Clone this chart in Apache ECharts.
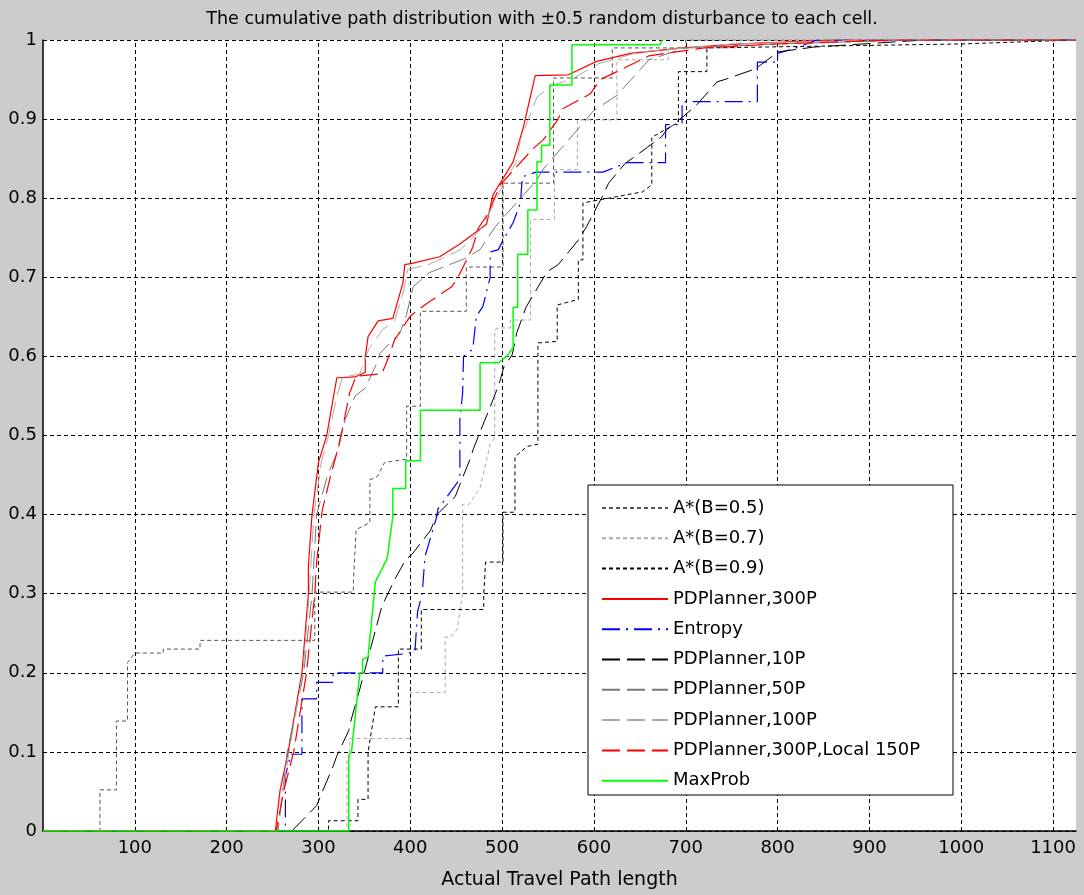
<!DOCTYPE html>
<html><head><meta charset="utf-8">
<script src="https://cdn.jsdelivr.net/npm/echarts/dist/echarts.min.js"></script>
<style>html,body{margin:0;padding:0;background:#cccccc}#c{width:1084px;height:895px}</style>
</head><body><div id="c"></div>
<script>
const titleText = 'The cumulative path distribution with \u00b10.5 random disturbance to each cell.';
const xName = 'Actual Travel Path length';
const seriesNames = ['A*(B=0.5)','A*(B=0.7)','A*(B=0.9)','PDPlanner,300P','Entropy','PDPlanner,10P','PDPlanner,50P','PDPlanner,100P','PDPlanner,300P,Local 150P','MaxProb'];
const xTicks = [100,200,300,400,500,600,700,800,900,1000,1100];

const astar05 = [[0,0],[62,0],[62,0.052],[80,0.052],[80,0.139],[92,0.139],[92,0.213],[100,0.225],[131,0.225],[131,0.23],[171,0.23],[171,0.241],[296,0.241],[296,0.302],[338,0.302],[338,0.314],[341,0.381],[356,0.39],[356,0.444],[364,0.448],[372,0.466],[396,0.47],[396,0.537],[411,0.537],[411,0.657],[461,0.657],[461,0.713],[501,0.713],[501,0.819],[556,0.819],[556,0.952],[620,0.952],[620,0.99],[700,0.99],[700,1],[1125,1]];
const astar07 = [[0,0],[331,0],[331,0.093],[334,0.093],[334,0.117],[400,0.117],[400,0.175],[438,0.175],[438,0.245],[444,0.245],[451,0.255],[457,0.3],[457,0.413],[464,0.413],[476,0.434],[487,0.489],[492,0.497],[492,0.634],[498,0.636],[509,0.636],[509,0.646],[531,0.646],[531,0.773],[557,0.773],[557,0.836],[582,0.836],[582,0.899],[625,0.899],[625,0.975],[681,0.975],[681,0.99],[760,0.99],[760,1],[1125,1]];
const astar09 = [[0,0],[311,0],[311,0.013],[343,0.013],[343,0.04],[354,0.04],[354,0.1],[362,0.157],[387,0.157],[387,0.23],[412,0.23],[412,0.28],[480,0.28],[480,0.3],[482,0.3],[482,0.34],[501,0.34],[501,0.403],[514,0.403],[514,0.473],[527,0.486],[539,0.489],[539,0.617],[560,0.619],[560,0.665],[583,0.672],[583,0.722],[588,0.722],[588,0.794],[653,0.808],[663,0.817],[663,0.877],[692,0.896],[692,0.96],[723,0.96],[723,0.99],[1000,0.995],[1125,1]];
const pd300 = [[0,0],[253,0],[258,0.05],[267,0.1],[282,0.2],[289,0.3],[289,0.335],[293,0.4],[300,0.466],[309,0.5],[315,0.54],[320,0.573],[340,0.574],[351,0.58],[351,0.6],[354,0.625],[365,0.645],[381,0.648],[392,0.693],[394,0.716],[403,0.718],[432,0.726],[454,0.742],[483,0.767],[490,0.804],[512,0.846],[523,0.889],[536,0.955],[572,0.956],[603,0.973],[640,0.983],[697,0.99],[760,0.995],[860,1],[1125,1]];
const entropy = [[0,0],[264,0],[264,0.07],[270,0.097],[282,0.097],[282,0.167],[298,0.167],[298,0.188],[316,0.188],[316,0.2],[370,0.2],[370,0.221],[394,0.224],[405,0.226],[408,0.278],[413,0.3],[416,0.347],[429,0.398],[430,0.407],[451,0.44],[454,0.448],[454,0.52],[457,0.554],[458,0.6],[468,0.609],[472,0.651],[479,0.663],[487,0.7],[487,0.732],[496,0.735],[501,0.747],[512,0.769],[520,0.794],[522,0.827],[537,0.833],[610,0.833],[636,0.845],[678,0.845],[678,0.893],[696,0.893],[696,0.922],[778,0.922],[778,0.972],[800,0.972],[800,0.983],[820,0.99],[843,1],[1125,1]];
const pd10 = [[0,0],[271,0],[298,0.032],[304,0.049],[316,0.082],[320,0.095],[333,0.127],[335,0.138],[344,0.175],[369,0.284],[383,0.318],[395,0.343],[402,0.35],[422,0.38],[429,0.4],[449,0.423],[454,0.438],[465,0.47],[469,0.484],[481,0.519],[485,0.53],[497,0.566],[502,0.587],[511,0.602],[516,0.63],[526,0.662],[532,0.674],[549,0.707],[561,0.716],[583,0.747],[592,0.764],[610,0.804],[616,0.819],[634,0.844],[645,0.853],[674,0.878],[679,0.886],[701,0.907],[712,0.918],[734,0.947],[745,0.951],[777,0.964],[781,0.968],[796,0.981],[801,0.985],[839,0.991],[960,1],[1125,1]];
const pd50 = [[0,0],[256,0],[266,0.1],[284,0.2],[293,0.3],[298,0.4],[310,0.45],[321,0.48],[329,0.52],[340,0.55],[351,0.56],[363,0.59],[367,0.604],[389,0.63],[396,0.653],[403,0.688],[421,0.706],[460,0.724],[476,0.735],[492,0.763],[500,0.774],[538,0.823],[545,0.837],[592,0.9],[599,0.91],[625,0.93],[660,0.975],[700,0.99],[800,0.995],[950,1],[1125,1]];
const pd100 = [[0,0],[255,0],[268,0.1],[283,0.2],[290,0.3],[295,0.4],[303,0.466],[311,0.5],[320,0.55],[326,0.573],[345,0.578],[355,0.61],[370,0.634],[383,0.645],[393,0.684],[397,0.71],[420,0.716],[455,0.735],[476,0.76],[490,0.79],[502,0.82],[515,0.845],[520,0.874],[538,0.928],[555,0.943],[575,0.95],[605,0.97],[650,0.985],[750,0.995],[900,1],[1125,1]];
const pd300local = [[0,0],[254,0],[262,0.05],[273,0.1],[287,0.2],[296,0.3],[298,0.34],[304,0.405],[313,0.448],[320,0.478],[326,0.508],[334,0.554],[341,0.575],[369,0.578],[374,0.592],[383,0.621],[400,0.651],[418,0.667],[445,0.688],[452,0.7],[468,0.738],[474,0.762],[485,0.781],[498,0.817],[534,0.863],[545,0.874],[561,0.9],[566,0.913],[596,0.932],[607,0.95],[625,0.96],[660,0.98],[720,0.99],[800,0.995],[930,1],[1125,1]];
const maxProb = [[0,0],[333,0],[333,0.095],[336,0.1],[345,0.2],[348,0.2],[348,0.217],[354,0.22],[362,0.315],[375,0.345],[381,0.398],[381,0.433],[395,0.433],[395,0.468],[411,0.468],[411,0.532],[476,0.532],[476,0.592],[496,0.592],[505,0.6],[512,0.611],[512,0.662],[517,0.662],[517,0.729],[528,0.729],[528,0.785],[538,0.785],[538,0.846],[543,0.846],[543,0.867],[552,0.867],[552,0.943],[576,0.943],[576,0.994],[672,0.994],[674,1]];

const seriesData = [astar05, astar07, astar09, pd300, entropy, pd10, pd50, pd100, pd300local, maxProb];
const colors = ['#555555','#aaaaaa','#000000','#ff0000','#0000ff','#000000','#777777','#aaaaaa','#ff0000','#00ff00'];
const dashes = [[4,3],[4,3],[4,3],'solid',[18,6,2,6],[18,7],[18,7],[18,7],[18,7],'solid'];
const widths = [1,1,1,1.2,1.2,1,1,1,1.2,1.5];

const FONT = 'DejaVu Sans, Liberation Sans, sans-serif';
const chart = echarts.init(document.getElementById('c'));
const series = seriesNames.map((n, i) => ({
  name: n, type: 'line', data: seriesData[i], symbol: 'none', showSymbol: false,
  z: 2, silent: true,
  lineStyle: { color: colors[i], type: dashes[i], width: widths[i] },
  itemStyle: { color: colors[i] }
}));
series.unshift({
  name: '__grid', type: 'line', data: [], z: 1, silent: true, symbol: 'none',
  markLine: { z: 1, silent: true, symbol: 'none', animation: false, label: { show: false },
    lineStyle: { color: '#000', type: [4,3], width: 1 },
    data: xTicks.map(v => ({ xAxis: v })) }
});
chart.setOption({
  backgroundColor: '#cccccc',
  animation: false,
  title: { text: titleText, left: 'center', top: 5, textStyle: { fontFamily: FONT, fontSize: 17.5, fontWeight: 'normal', color: '#000' } },
  grid: { left: 43, top: 40, width: 1033, height: 792, show: true, backgroundColor: '#ffffff', borderWidth: 0 },
  xAxis: {
    type: 'value', min: 0, max: 1125, interval: 100,
    name: xName, nameLocation: 'middle', nameGap: 40,
    nameTextStyle: { fontFamily: FONT, fontSize: 19, color: '#000' },
    axisLine: { show: true, lineStyle: { color: '#000', width: 1.5 } },
    axisTick: { show: false },
    axisLabel: { fontFamily: FONT, fontSize: 18, color: '#000', margin: 8,
      formatter: v => xTicks.indexOf(v) >= 0 ? String(v) : '' },
    splitLine: { show: false }
  },
  yAxis: {
    type: 'value', min: 0, max: 1, interval: 0.1,
    axisLine: { show: true, lineStyle: { color: '#000', width: 1.5 } },
    axisTick: { show: false },
    axisLabel: { fontFamily: FONT, fontSize: 18, color: '#000', margin: 6,
      formatter: v => String(+v.toFixed(1)) },
    splitLine: { show: true, lineStyle: { color: '#000', type: [4,3], width: 1 } }
  },
  graphic: [{ type: 'rect', z: 20, shape: { x: 588, y: 485, width: 365, height: 310 },
    style: { fill: '#ffffff', stroke: '#000', lineWidth: 1 } }],
  legend: {
    z: 21, orient: 'vertical', left: 601, top: 499, itemWidth: 66, itemHeight: 14, itemGap: 12.3,
    padding: 0, data: seriesNames,
    itemStyle: { opacity: 0 },
    textStyle: { fontFamily: FONT, fontSize: 18, color: '#000' }
  },
  series: series
});
</script></body></html>
